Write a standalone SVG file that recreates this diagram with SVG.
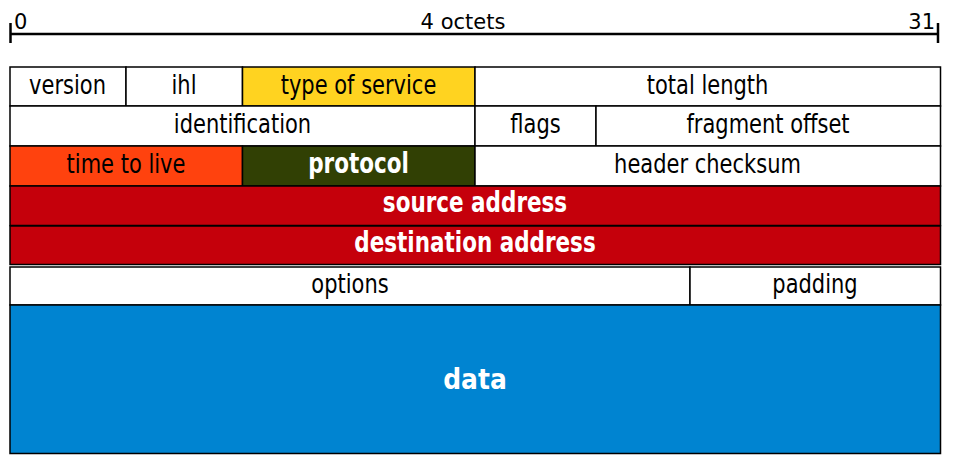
<svg xmlns="http://www.w3.org/2000/svg" width="960" height="456" viewBox="0 0 960 456">
<style>
.c{stroke:#000;stroke-width:1.5}
.w{fill:#fff}
.t{font-family:"DejaVu Sans",Verdana,sans-serif;font-size:21px;fill:#000;text-anchor:middle}
.b{font-family:"DejaVu Sans",Verdana,sans-serif;font-size:21.5px;font-weight:bold;fill:#fff;text-anchor:middle}
.s{font-family:"DejaVu Sans",Verdana,sans-serif;font-size:21px;fill:#000}
</style>
<rect width="960" height="456" fill="#fff"/>
<g id="scale">
<line x1="10.5" y1="34" x2="938" y2="34" stroke="#000" stroke-width="2.5"/>
<line x1="10.5" y1="23" x2="10.5" y2="43" stroke="#000" stroke-width="2.5"/>
<line x1="938" y1="23" x2="938" y2="43" stroke="#000" stroke-width="2.5"/>
<text class="s" x="14" y="29">0</text>
<text class="s" x="463" y="29" text-anchor="middle">4 octets</text>
<text class="s" x="935" y="29" text-anchor="end">31</text>
</g>
<g id="version"><rect class="c w" x="10" y="67" width="116" height="39"/><text class="t" transform="translate(67.5,94.3) scale(1,1.3)">version</text></g>
<g id="ihl"><rect class="c w" x="126" y="67" width="116.5" height="39"/><text class="t" transform="translate(184,94.3) scale(1,1.3)">ihl</text></g>
<g id="tos"><rect class="c" fill="#FFD320" x="242.5" y="67" width="232.5" height="39"/><text class="t" transform="translate(358.5,94.3) scale(1,1.3)">type of service</text></g>
<g id="total-length"><rect class="c w" x="475" y="67" width="465.5" height="39"/><text class="t" transform="translate(707.5,94.3) scale(1,1.3)">total length</text></g>
<g id="identification"><rect class="c w" x="10" y="106" width="465" height="40"/><text class="t" transform="translate(242.5,133.3) scale(1,1.3)">identification</text></g>
<g id="flags"><rect class="c w" x="475" y="106" width="121" height="40"/><text class="t" transform="translate(535.5,133.3) scale(1,1.3)">flags</text></g>
<g id="fragment-offset"><rect class="c w" x="596" y="106" width="344.5" height="40"/><text class="t" transform="translate(768,133.3) scale(1,1.3)">fragment offset</text></g>
<g id="ttl"><rect class="c" fill="#FF420E" x="10" y="146" width="232.5" height="40"/><text class="t" transform="translate(126,172.5) scale(1,1.3)">time to live</text></g>
<g id="protocol"><rect class="c" fill="#314004" x="242.5" y="146" width="232.5" height="40"/><text class="b" transform="translate(358.5,172.5) scale(1,1.3)">protocol</text></g>
<g id="checksum"><rect class="c w" x="475" y="146" width="465.5" height="40"/><text class="t" transform="translate(707.5,172.5) scale(1,1.3)">header checksum</text></g>
<g id="source"><rect class="c" fill="#C5000B" x="10" y="186" width="930.5" height="39.5"/><text class="b" transform="translate(475,212.3) scale(1,1.3)">source address</text></g>
<g id="destination"><rect class="c" fill="#C5000B" x="10" y="226" width="930.5" height="38.5"/><text class="b" transform="translate(475,252.3) scale(1,1.3)">destination address</text></g>
<g id="options"><rect class="c w" x="10" y="267" width="680" height="38"/><text class="t" transform="translate(350,292.5) scale(1,1.3)">options</text></g>
<g id="padding"><rect class="c w" x="690" y="267" width="250.5" height="38"/><text class="t" transform="translate(815,292.5) scale(1,1.3)">padding</text></g>
<g id="data"><rect class="c" fill="#0084D1" x="10" y="305" width="930.5" height="148.5"/><text class="b" transform="translate(475,389) scale(1,1.15)" style="font-size:25px">data</text></g>
<g id="connectors"/>
</svg>
